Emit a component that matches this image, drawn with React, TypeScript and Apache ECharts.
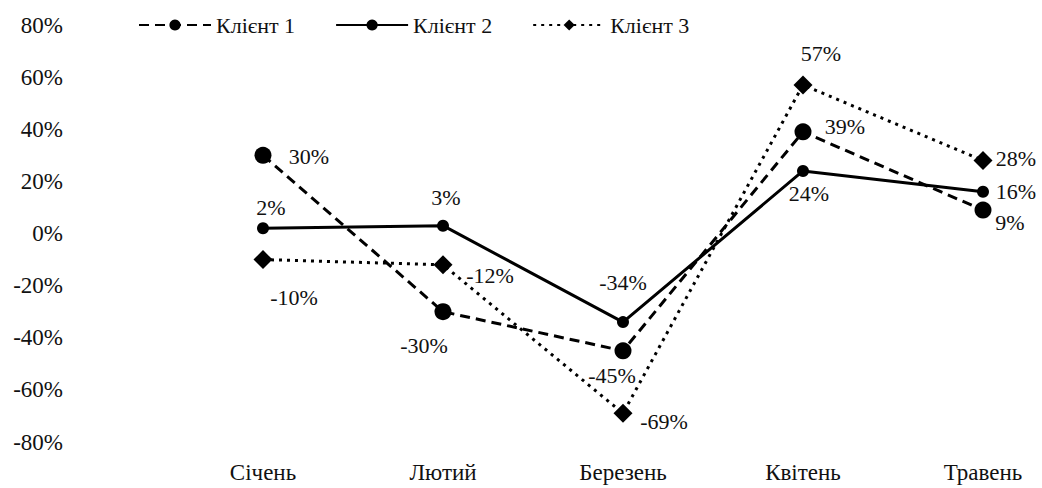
import React, { useEffect, useRef } from "react";
import * as echarts from "echarts";

const categories = ["Січень", "Лютий", "Березень", "Квітень", "Травень"];
const seriesNames = ["Клієнт 1", "Клієнт 2", "Клієнт 3"];
const client1 = [30, -30, -45, 39, 9];
const client2 = [2, 3, -34, 24, 16];
const client3 = [-10, -12, -69, 57, 28];
const yTicks = { min: -80, max: 80, interval: 20 };

// label offsets (px from the point centre) – layout only
const off1 = [[46, 1], [-19, 34], [-11, 25], [42, -5], [27, 12]];
const off2 = [[8, -21], [3, -28], [0, -40], [6, 23], [33, 0]];
const off3 = [[31, 38], [47, 11], [41, 8], [18, -31], [33, -2]];

const FONT = "Liberation Serif";

function build(values: number[], offs: number[][]) {
  return values.map((v, i) => ({
    value: v,
    label: { offset: offs[i] },
  }));
}

export default function App() {
  const ref = useRef<HTMLDivElement>(null);
  useEffect(() => {
    document.body.style.margin = "0";
    if (!ref.current) return;
    const chart = echarts.init(ref.current, undefined, { renderer: "svg" });
    const labelBase = {
      show: true,
      position: "inside",
      align: "center",
      verticalAlign: "middle",
      color: "#111",
      fontFamily: FONT,
      fontSize: 22,
      formatter: (p: any) => p.value + "%",
    };
    chart.setOption({
      animation: false,
      backgroundColor: "#fff",
      textStyle: { fontFamily: FONT },
      legend: {
        left: 133,
        top: 9,
        itemWidth: 72,
        itemHeight: 14,
        itemGap: 40,
        textStyle: { fontFamily: FONT, fontSize: 22, color: "#111" },
        data: seriesNames,
      },
      grid: { left: 263, right: 59, top: 25, bottom: 46 },
      xAxis: {
        type: "category",
        data: categories,
        boundaryGap: false,
        axisLine: { show: false },
        axisTick: { show: false },
        axisLabel: { margin: 19, fontFamily: FONT, fontSize: 23, color: "#111" },
        splitLine: { show: false },
      },
      yAxis: {
        type: "value",
        min: yTicks.min,
        max: yTicks.max,
        interval: yTicks.interval,
        axisLine: { show: false },
        axisTick: { show: false },
        splitLine: { show: false },
        axisLabel: {
          margin: 200,
          fontFamily: FONT,
          fontSize: 23,
          color: "#111",
          formatter: "{value}%",
        },
      },
      series: [
        {
          name: seriesNames[2],
          type: "line",
          data: build(client3, off3),
          symbol: "diamond",
          symbolSize: 19,
          z: 2,
          itemStyle: { color: "#000" },
          lineStyle: { color: "#000", width: 3, type: [3, 5] },
          label: labelBase,
        },
        {
          name: seriesNames[0],
          type: "line",
          data: build(client1, off1),
          symbol: "circle",
          symbolSize: 17,
          z: 3,
          itemStyle: { color: "#000" },
          lineStyle: { color: "#000", width: 3, type: [10, 6] },
          label: labelBase,
        },
        {
          name: seriesNames[1],
          type: "line",
          data: build(client2, off2),
          symbol: "circle",
          symbolSize: 12,
          z: 4,
          itemStyle: { color: "#000" },
          lineStyle: { color: "#000", width: 3 },
          label: labelBase,
        },
      ],
    });
    return () => chart.dispose();
  }, []);
  return <div ref={ref} style={{ width: 1042, height: 488 }} />;
}
